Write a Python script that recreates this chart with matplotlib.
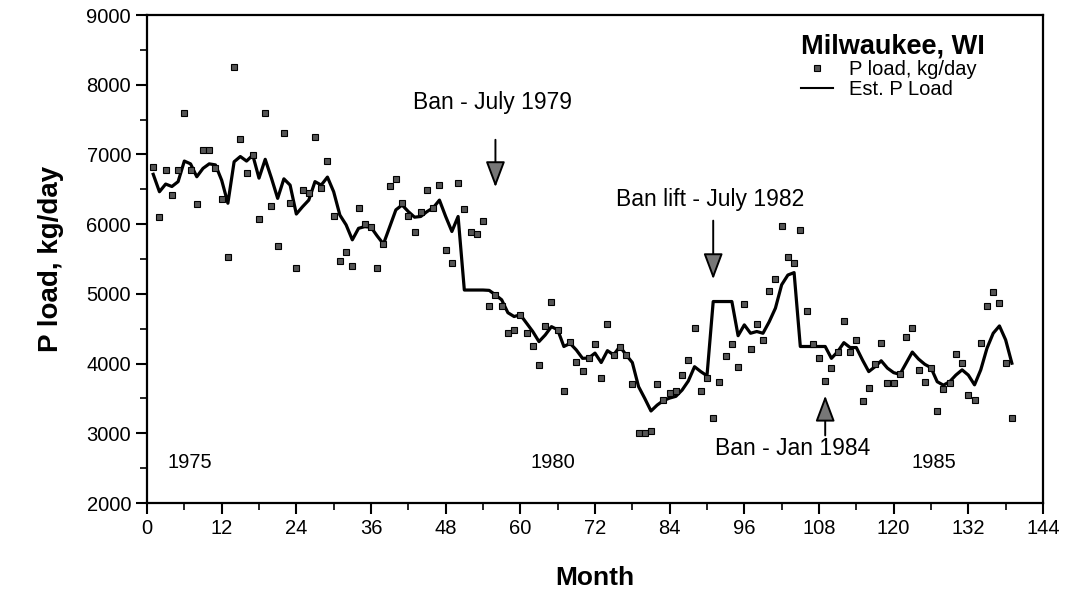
import matplotlib.pyplot as plt
import numpy as np
from matplotlib.lines import Line2D

plt.rcParams['font.family'] = ['Liberation Sans', 'DejaVu Sans']

# Monthly observations, month 1 = Jan 1975
months = np.arange(1, 140)

p_load = [
    6825, 6100, 6775, 6415, 6775, 7600, 6775, 6290, 7065, 7065,
    6800, 6355, 5525, 8250, 7215, 6740, 6990, 6070, 7600, 6265,
    5690, 7310, 6300, 5370, 6490, 6450, 7255, 6515, 6905, 6110,
    5470, 5600, 5400, 6235, 6005, 5960, 5370, 5715, 6550, 6650,
    6310, 6110, 5885, 6180, 6490, 6235, 6560, 5630, 5440, 6595,
    6215, 5885, 5855, 6045, 4830, 4985, 4830, 4435, 4475, 4700,
    4435, 4245, 3985, 4540, 4885, 4475, 3605, 4315, 4020, 3895,
    4075, 4280, 3800, 4570, 4120, 4235, 4125, 3705, 3000, 3000,
    3035, 3705, 3480, 3575, 3600, 3835, 4055, 4505, 3610, 3795,
    3215, 3730, 4115, 4280, 3955, 4850, 4210, 4570, 4340, 5045,
    5210, 5975, 5525, 5440, 5915, 4755, 4280, 4075, 3750, 3940,
    4170, 4615, 4170, 4340, 3465, 3655, 3990, 4290, 3720, 3720,
    3850, 4385, 4515, 3910, 3740, 3940, 3325, 3635, 3720, 4135,
    4005, 3550, 3480, 4290, 4825, 5030, 4865, 4005, 3225,
]

est_load = [
    6715, 6465, 6575, 6540, 6610, 6905, 6865, 6680, 6800, 6865,
    6850, 6630, 6300, 6895, 6970, 6905, 6990, 6660, 6930, 6660,
    6370, 6650, 6560, 6145, 6250, 6345, 6610, 6560, 6675, 6465,
    6130, 5990, 5775, 5940, 5965, 5955, 5830, 5715, 5960, 6205,
    6275, 6180, 6100, 6110, 6180, 6235, 6345, 6110, 5895, 6110,
    5055, 5055, 5055, 5055, 5050, 4985, 4915, 4730, 4675, 4700,
    4580, 4460, 4315, 4410, 4530, 4485, 4245, 4290, 4195, 4075,
    4080, 4150, 4015, 4185, 4125, 4245, 4125, 4015, 3670, 3500,
    3320, 3405, 3470, 3505, 3530, 3620, 3750, 3955, 3885, 3825,
    4890, 4890, 4890, 4890, 4400, 4555, 4435, 4460, 4435, 4600,
    4795, 5130, 5270, 5305, 4245, 4245, 4245, 4245, 4245, 4075,
    4170, 4300, 4230, 4230, 4050, 3885, 3955, 4040, 3935, 3870,
    3845, 4005, 4165, 4065, 3990, 3940, 3740, 3690, 3740, 3835,
    3910, 3835, 3695, 3910, 4220, 4435, 4540, 4340, 4005,
]

year_labels = ['1975', '1980', '1985']
year_pos = [6.9, 65.3, 126.4]

fig = plt.figure(figsize=(10.66, 5.91), dpi=100)
ax = fig.add_axes([0.1379, 0.1489, 0.8405, 0.8257])

ax.plot(months, est_load, color='black', lw=2.3, zorder=2)
ax.plot(months, p_load, ls='none', marker='s', ms=5, mfc='#555555',
        mec='black', mew=0.8, zorder=3)

ax.set_xlim(0, 144)
ax.set_ylim(2000, 9000)
ax.set_xticks(np.arange(0, 145, 12))
ax.set_xticks(np.arange(6, 144, 12), minor=True)
ax.set_yticks(np.arange(2000, 9001, 1000))
ax.set_yticks(np.arange(2500, 9000, 1000), minor=True)
ax.tick_params(which='major', direction='out', length=8, width=1.5, labelsize=14.5)
ax.tick_params(which='minor', direction='out', length=5, width=1.2)
ax.tick_params(top=False, right=False)
for s in ax.spines.values():
    s.set_linewidth(1.6)

ax.set_xlabel('Month', fontsize=19, fontweight='bold', labelpad=20)
ax.set_ylabel('P load, kg/day', fontsize=20, fontweight='bold', labelpad=16)

# year markers along the bottom
for lab, xp in zip(year_labels, year_pos):
    ax.text(xp, 2580, lab, fontsize=14.5, ha='center', va='center')

# ban / lift arrows
arrow = dict(arrowstyle='-|>,head_width=0.6,head_length=1.6',
             facecolor='#777777', edgecolor='black', lw=1.4)
ax.annotate('', xy=(56, 6490), xytext=(56, 7250), arrowprops=arrow)
ax.text(55.5, 7740, 'Ban - July 1979', fontsize=16.5, ha='center', va='center')

ax.annotate('', xy=(91, 5170), xytext=(91, 6090), arrowprops=arrow)
ax.text(90.5, 6350, 'Ban lift - July 1982', fontsize=16.5, ha='center', va='center')

ax.annotate('', xy=(109, 3580), xytext=(109, 2930), arrowprops=arrow)
ax.text(103.7, 2775, 'Ban - Jan 1984', fontsize=16.5, ha='center', va='center')

handles = [
    Line2D([], [], ls='none', marker='s', ms=5, mfc='#555555', mec='black', mew=0.8),
    Line2D([], [], color='black', lw=1.5),
]
leg = ax.legend(handles, ['P load, kg/day', 'Est. P Load'], title='Milwaukee, WI',
                title_fontproperties={'weight': 'bold', 'size': 19.5},
                fontsize=14.5, frameon=False, loc='upper right',
                bbox_to_anchor=(0.955, 1.0), handlelength=1.6,
                handletextpad=0.8, labelspacing=0.05, alignment='left',
                numpoints=1)

fig.savefig('out.png', dpi=100)
